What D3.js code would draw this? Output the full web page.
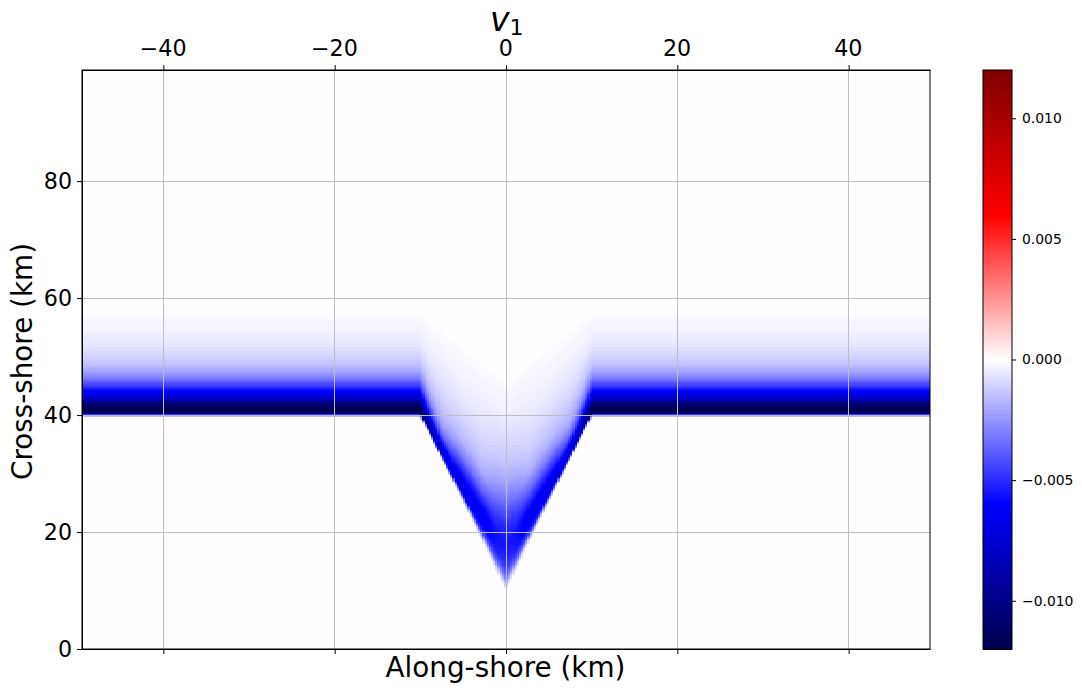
<!DOCTYPE html>
<html>
<head>
<meta charset="utf-8">
<script src="https://cdn.jsdelivr.net/npm/d3@7"></script>
<style>
  body { margin: 0; background: #fff; }
  text { font-family: "DejaVu Sans", sans-serif; fill: #000; }
  .domain, .tick line { stroke: #000; }
</style>
</head>
<body>
<script>
// readings
var xTicks = [-40, -20, 0, 20, 40];
var yTicks = [0, 20, 40, 60, 80];
var barTicks = [-0.01, -0.005, 0, 0.005, 0.01];
var xDomain = [-49.5, 49.5];
var yDomain = [0, 99];
var barDomain = [-0.012, 0.012];

// seismic colormap
var seismicAt = [0, 0.25, 0.5, 0.75, 1];
var seismicColors = ["#00004d", "#0000ff", "#ffffff", "#ff0000", "#800000"];

// distance from the centre of the notch (km), lower and upper end of the jet there
var stationKm = [0, 2.5, 5, 7.5, 9.2, 10];
var jetBottom = [10, 17.6, 25.1, 32.4, 37.4, 39.6];
var jetTop = [45, 48, 51, 54, 56, 57];

// fraction of the way up the jet, and v1 at that fraction for each station
var jetFraction = [0, 0.02, 0.05, 0.1, 0.15, 0.2, 0.3, 0.4, 0.5, 0.6, 0.7, 0.85, 1];
var v1Km0 = [-0.0006, -0.0012, -0.0028, -0.0044, -0.0051, -0.0055, -0.0053, -0.0038, -0.0024, -0.0015, -0.001, -0.0004, -0.00012];
var v1Km2 = [-0.0004, -0.001, -0.0042, -0.0062, -0.0063, -0.0059, -0.0036, -0.002, -0.0013, -0.0009, -0.0006, -0.0003, -0.00012];
var v1Km5 = [-0.0004, -0.002, -0.0066, -0.0068, -0.0062, -0.0052, -0.003, -0.0017, -0.0012, -0.0008, -0.0005, -0.00025, -0.00012];
var v1Km7 = [-0.0004, -0.004, -0.0078, -0.0066, -0.005, -0.0034, -0.0019, -0.0014, -0.001, -0.0007, -0.0005, -0.00025, -0.00012];
var v1Km9 = [-0.0006, -0.0035, -0.0098, -0.0092, -0.0072, -0.0055, -0.0032, -0.0019, -0.0012, -0.0008, -0.0005, -0.00025, -0.00012];
var v1Flat = [-0.0015, -0.002, -0.0118, -0.0118, -0.0098, -0.0075, -0.0048, -0.0028, -0.0016, -0.001, -0.0006, -0.0003, -0.00012];
var stationV1 = [v1Km0, v1Km2, v1Km5, v1Km7, v1Km9, v1Flat];

var width = 1082, height = 693;
var plot = {left: 82, right: 930, top: 70, bottom: 649};
var bar = {left: 983, right: 1012};

var svg = d3.select("body").append("svg")
  .attr("width", width)
  .attr("height", height)
  .style("display", "block");

var xScale = d3.scaleLinear().domain(xDomain).range([plot.left, plot.right]);
var yScale = d3.scaleLinear().domain(yDomain).range([plot.bottom, plot.top]);
var barScale = d3.scaleLinear().domain(barDomain).range([plot.bottom, plot.top]);

var seismicRamp = d3.scaleLinear().domain(seismicAt).range(seismicColors);
var seismic = d3.scaleQuantize().domain(barDomain)
  .range(d3.range(256).map(i => seismicRamp(i / 255)));

var bottomAt = d3.scaleLinear().domain(stationKm).range(jetBottom).clamp(true);
var topAt = d3.scaleLinear().domain(stationKm).range(jetTop).clamp(true);

// v1 along one column, from the stations either side of it
function columnProfile(km) {
  var values = jetFraction.map((f, j) =>
    d3.scaleLinear().domain(stationKm).range(stationV1.map(s => s[j])).clamp(true)(km));
  return d3.scaleLinear().domain(jetFraction).range(values);
}

// cells: one wide column on each side, narrow ones across the notch
var columns = [{x0: xDomain[0], x1: -10, km: 10}, {x0: 10, x1: xDomain[1], km: 10}];
d3.range(-10, 10, 0.25).forEach(x => {
  columns.push({x0: x, x1: x + 0.25, km: Math.abs(x + 0.125)});
});

var dy = 0.2;
var cells = [];
columns.forEach(c => {
  var y0 = bottomAt(c.km), y1 = topAt(c.km), profile = columnProfile(c.km);
  d3.range(Math.floor(y0 / dy) * dy, y1, dy).forEach(y => {
    var f = (y + dy / 2 - y0) / (y1 - y0);
    if (f < 0 || f > 1) return;
    cells.push({x0: c.x0, x1: c.x1, y: y, v: profile(f)});
  });
});

svg.append("rect")
  .attr("x", plot.left).attr("y", plot.top)
  .attr("width", plot.right - plot.left)
  .attr("height", plot.bottom - plot.top)
  .attr("fill", seismic(0));

svg.append("g").attr("shape-rendering", "crispEdges")
  .selectAll("rect")
  .data(cells)
  .enter()
  .append("rect")
  .attr("x", d => xScale(d.x0))
  .attr("width", d => xScale(d.x1) - xScale(d.x0))
  .attr("y", d => yScale(d.y + dy))
  .attr("height", d => yScale(d.y) - yScale(d.y + dy))
  .attr("fill", d => seismic(d.v));

// grid
var grid = svg.append("g").attr("stroke", "#bdbdbd").attr("stroke-width", 1).attr("shape-rendering", "crispEdges");
grid.selectAll(".gx").data(xTicks).enter().append("line")
  .attr("x1", d => xScale(d)).attr("x2", d => xScale(d))
  .attr("y1", plot.top).attr("y2", plot.bottom);
grid.selectAll(".gy").data(yTicks).enter().append("line")
  .attr("y1", d => yScale(d)).attr("y2", d => yScale(d))
  .attr("x1", plot.left).attr("x2", plot.right);

// axes
var xAxisTop = d3.axisTop(xScale).tickValues(xTicks).tickSizeInner(5).tickSizeOuter(0).tickPadding(9);
var xAxisBottom = d3.axisBottom(xScale).tickValues(xTicks).tickSizeInner(5).tickSizeOuter(0).tickFormat("");
var yAxis = d3.axisLeft(yScale).tickValues(yTicks).tickSizeInner(5).tickSizeOuter(0).tickPadding(5).tickFormat(d3.format("d"));

var gTop = svg.append("g").attr("transform", "translate(0," + plot.top + ")").call(xAxisTop);
svg.append("g").attr("transform", "translate(0," + plot.bottom + ")").call(xAxisBottom);
var gLeft = svg.append("g").attr("transform", "translate(" + plot.left + ",0)").call(yAxis);
gTop.selectAll("text").attr("dx", -0.8).style("font-family", '"DejaVu Sans"').style("font-size", "22.2px");
gLeft.selectAll("text").style("font-family", '"DejaVu Sans"').style("font-size", "22.2px");

svg.append("rect")
  .attr("x", plot.left).attr("y", plot.top)
  .attr("width", plot.right - plot.left)
  .attr("height", plot.bottom - plot.top)
  .attr("fill", "none").attr("stroke", "#000");

// labels
svg.append("text")
  .attr("x", 505.5).attr("y", 677)
  .attr("text-anchor", "middle").style("font-size", "27.8px")
  .text("Along-shore (km)");
svg.append("text")
  .attr("transform", "translate(32,361.5) rotate(-90)")
  .attr("text-anchor", "middle").style("font-size", "27.8px")
  .text("Cross-shore (km)");

var title = svg.append("text").attr("x", 490).attr("y", 31).style("font-size", "33px");
title.append("tspan").style("font-style", "italic").text("v");
title.append("tspan").attr("dy", 4).style("font-size", "22px").text("1");

// colorbar
var levels = d3.range(256);
svg.append("g").attr("shape-rendering", "crispEdges")
  .selectAll("rect")
  .data(levels)
  .enter()
  .append("rect")
  .attr("x", bar.left)
  .attr("width", bar.right - bar.left)
  .attr("y", d => barScale(barDomain[0] + (d + 1) * 0.024 / 256))
  .attr("height", (plot.bottom - plot.top) / 256 + 0.5)
  .attr("fill", d => seismic(barDomain[0] + (d + 0.5) * 0.024 / 256));

var barAxis = d3.axisRight(barScale).tickValues(barTicks).tickSize(4).tickPadding(6).tickFormat(d3.format(".3f"));
var gBar = svg.append("g").attr("transform", "translate(" + bar.right + ",0)").call(barAxis);
gBar.select(".domain").remove();
gBar.selectAll("text").style("font-family", '"DejaVu Sans"').style("font-size", "13.9px");

svg.append("rect")
  .attr("x", bar.left).attr("y", plot.top)
  .attr("width", bar.right - bar.left)
  .attr("height", plot.bottom - plot.top)
  .attr("fill", "none").attr("stroke", "#000");
</script>
</body>
</html>
